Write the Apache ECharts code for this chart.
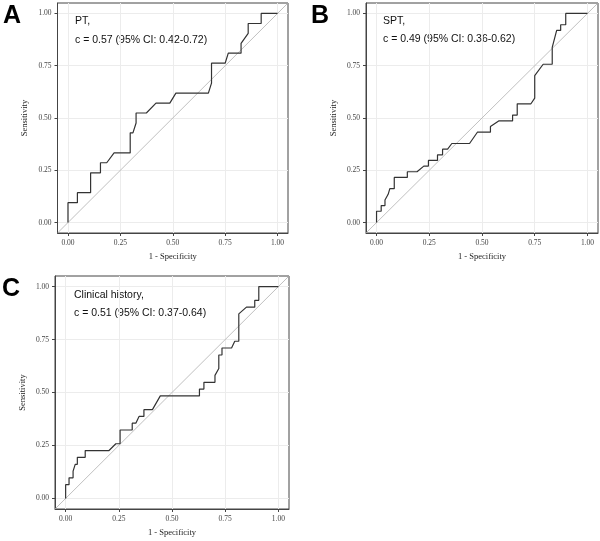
<!DOCTYPE html>
<html>
<head>
<meta charset="utf-8">
<script src="https://cdn.jsdelivr.net/npm/echarts@6/dist/echarts.min.js"></script>
<style>html,body{margin:0;padding:0;background:#fff;}#c{width:600px;height:541px;}</style>
</head>
<body>
<div id="c"></div>
<script>
// ROC curve data (1 - specificity, sensitivity)
const ptFpr  = [0,0,0.045,0.045,0.108,0.108,0.155,0.155,0.185,0.22,0.297,0.297,0.31,0.325,0.325,0.374,0.42,0.486,0.515,0.67,0.685,0.685,0.75,0.765,0.826,0.826,0.86,0.86,0.922,0.922,1];
const ptTpr  = [0,0.095,0.095,0.143,0.143,0.238,0.238,0.286,0.286,0.333,0.333,0.429,0.429,0.476,0.524,0.524,0.571,0.571,0.619,0.619,0.667,0.762,0.762,0.81,0.81,0.857,0.905,0.952,0.952,1,1];

const sptFpr = [0,0,0.022,0.022,0.04,0.04,0.055,0.063,0.063,0.084,0.084,0.146,0.146,0.192,0.224,0.246,0.246,0.289,0.289,0.313,0.313,0.337,0.357,0.441,0.478,0.54,0.54,0.579,0.645,0.645,0.667,0.667,0.732,0.75,0.75,0.79,0.833,0.833,0.854,0.873,0.873,0.897,0.897,1];
const sptTpr = [0,0.054,0.054,0.081,0.081,0.108,0.135,0.135,0.162,0.162,0.216,0.216,0.243,0.243,0.27,0.27,0.297,0.297,0.324,0.324,0.351,0.351,0.378,0.378,0.432,0.432,0.459,0.486,0.486,0.514,0.514,0.568,0.568,0.595,0.703,0.757,0.757,0.838,0.919,0.919,0.946,0.946,1,1];

const chFpr  = [0,0,0.016,0.016,0.035,0.035,0.045,0.055,0.055,0.092,0.092,0.204,0.236,0.256,0.256,0.313,0.313,0.33,0.345,0.368,0.368,0.408,0.445,0.629,0.629,0.65,0.65,0.702,0.702,0.72,0.72,0.735,0.735,0.78,0.795,0.814,0.814,0.85,0.889,0.889,0.908,0.908,1];
const chTpr  = [0,0.065,0.065,0.097,0.097,0.129,0.161,0.161,0.194,0.194,0.226,0.226,0.258,0.258,0.323,0.323,0.355,0.355,0.387,0.387,0.419,0.419,0.484,0.484,0.516,0.516,0.548,0.548,0.581,0.613,0.677,0.677,0.71,0.71,0.742,0.742,0.871,0.903,0.903,0.935,0.935,1,1];

const tickValues = [0, 0.25, 0.5, 0.75, 1];
const panelLetters = ['A', 'B', 'C'];
const panelNames = ['PT,', 'SPT,', 'Clinical history,'];
const panelStats = ['c = 0.57 (95% CI: 0.42-0.72)', 'c = 0.49 (95% CI: 0.36-0.62)', 'c = 0.51 (95% CI: 0.37-0.64)'];
const xTitle = '1 - Specificity';
const yTitle = 'Sensitivity';

const curves = [[ptFpr, ptTpr], [sptFpr, sptTpr], [chFpr, chTpr]];

const grids = [
  {left: 57.5, top: 3, width: 230.5, height: 230},
  {left: 366, top: 3, width: 232, height: 230},
  {left: 55, top: 276, width: 234, height: 233}
];

const serif = '"Liberation Serif", "DejaVu Serif", serif';
const sans = '"Liberation Sans", Arial, sans-serif';

function fmt(v){ return v.toFixed(2); }

const option = {
  animation: false,
  backgroundColor: '#fff',
  grid: grids.map(g => Object.assign({show: true, borderColor: '#444', borderWidth: 1, backgroundColor: '#fff'}, g)),
  xAxis: grids.map((g, i) => ({
    type: 'value', gridIndex: i, min: -0.05, max: 1.05, position: 'bottom',
    name: xTitle, nameLocation: 'middle', nameGap: 19,
    nameTextStyle: {fontFamily: serif, fontSize: 8.5, color: '#222'},
    axisLine: {show: true, onZero: false, lineStyle: {color: '#444', width: 1}},
    axisTick: {show: true, inside: false, length: 3, lineStyle: {color: '#444', width: 1}, customValues: tickValues},
    axisLabel: {customValues: tickValues, formatter: fmt, fontFamily: serif, fontSize: 7.5, color: '#444', margin: 6},
    splitLine: {show: true, lineStyle: {color: '#ececec', width: 1}}
  })),
  yAxis: grids.map((g, i) => ({
    type: 'value', gridIndex: i, min: -0.05, max: 1.05, position: 'left',
    name: yTitle, nameLocation: 'middle', nameGap: 28,
    nameTextStyle: {fontFamily: serif, fontSize: 8.5, color: '#222'},
    axisLine: {show: true, onZero: false, lineStyle: {color: '#444', width: 1}},
    axisTick: {show: true, inside: false, length: 3, lineStyle: {color: '#444', width: 1}, customValues: tickValues},
    axisLabel: {customValues: tickValues, formatter: fmt, fontFamily: serif, fontSize: 7.5, color: '#444', margin: 6},
    splitLine: {show: true, lineStyle: {color: '#ececec', width: 1}}
  })),
  series: [].concat(
    grids.map((g, i) => ({
      type: 'line', xAxisIndex: i, yAxisIndex: i, silent: true,
      data: [[-0.05, -0.05], [1.05, 1.05]], showSymbol: false,
      lineStyle: {color: '#b0b0b0', width: 0.8}, z: 2
    })),
    curves.map((c, i) => ({
      type: 'line', xAxisIndex: i, yAxisIndex: i, silent: true,
      data: c[0].map((x, k) => [x, c[1][k]]), showSymbol: false,
      lineStyle: {color: '#333', width: 1.2}, z: 3
    }))
  ),
  graphic: [
    {type: 'text', left: 3, top: 4, style: {text: panelLetters[0], font: 'bold 25px ' + sans, fill: '#000'}},
    {type: 'text', left: 311, top: 4, style: {text: panelLetters[1], font: 'bold 25px ' + sans, fill: '#000'}},
    {type: 'text', left: 2, top: 277, style: {text: panelLetters[2], font: 'bold 25px ' + sans, fill: '#000'}},
    {type: 'text', x: 75, y: 21, style: {text: panelNames[0], font: '10.5px ' + sans, fill: '#111', verticalAlign: 'middle'}},
    {type: 'text', x: 75, y: 40, style: {text: panelStats[0], font: '10.5px ' + sans, fill: '#111', verticalAlign: 'middle'}},
    {type: 'text', x: 383, y: 21, style: {text: panelNames[1], font: '10.5px ' + sans, fill: '#111', verticalAlign: 'middle'}},
    {type: 'text', x: 383, y: 39.5, style: {text: panelStats[1], font: '10.5px ' + sans, fill: '#111', verticalAlign: 'middle'}},
    {type: 'text', x: 74, y: 295, style: {text: panelNames[2], font: '10.5px ' + sans, fill: '#111', verticalAlign: 'middle'}},
    {type: 'text', x: 74, y: 313.5, style: {text: panelStats[2], font: '10.5px ' + sans, fill: '#111', verticalAlign: 'middle'}}
  ]
};

const chart = echarts.init(document.getElementById('c'), null, {renderer: 'canvas'});
chart.setOption(option);
</script>
</body>
</html>
